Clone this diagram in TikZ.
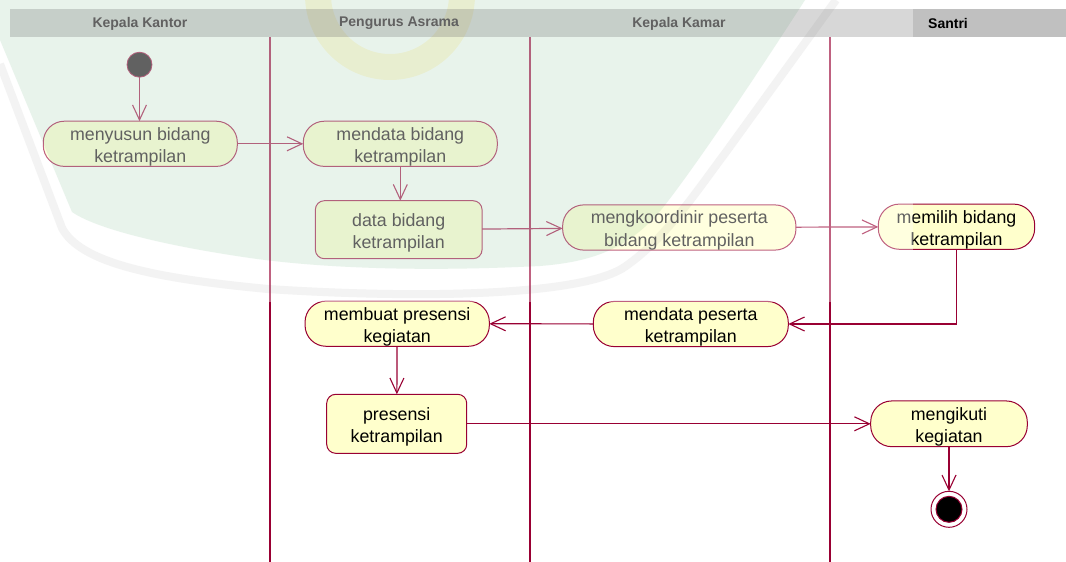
\documentclass[tikz,border=0pt]{standalone}
\usepackage{fontspec}
\setmainfont{Liberation Sans}
\usetikzlibrary{arrows.meta}

\definecolor{umlline}{RGB}{153,0,51}
\definecolor{umlfill}{RGB}{255,255,204}
\definecolor{lanehead}{RGB}{192,192,192}
\definecolor{shieldtint}{RGB}{219,237,224}
\definecolor{shieldrim}{RGB}{236,236,236}
\definecolor{crestgold}{RGB}{255,246,205}

% strut that lowers the two text lines a little inside each box
\newcommand{\ts}{\rule{0pt}{19pt}}

\begin{document}
\begin{tikzpicture}[x=1pt,y=-1pt,
  every node/.style={inner sep=0pt, outer sep=0pt},
  txt/.style={font=\fontsize{17.8}{22.5}\selectfont, align=center},
  action/.style={txt, draw=umlline, fill=umlfill, line width=1pt, rounded corners=21pt},
  objbox/.style={txt, draw=umlline, fill=umlfill, line width=1pt, rounded corners=9pt},
  flow/.style={draw=umlline, line width=1.2pt,
    -{Straight Barb[length=15pt,width=14pt,line width=1.1pt]}},
  lanehdr/.style={font=\bfseries\fontsize{14}{16}\selectfont},
  laneline/.style={draw=umlline, line width=1.2pt},
  startnode/.style={circle, fill=black, draw=umlline, line width=0.8pt, minimum size=25pt},
  endring/.style={circle, fill=white, draw=umlline, line width=1pt, minimum size=36pt},
  enddot/.style={circle, fill=black, draw=umlline, line width=1pt, minimum size=26pt}]

\useasboundingbox (0,0) rectangle (1066,562);
\fill[white] (0,0) rectangle (1066,562);

% swimlane header strip
\fill[lanehead] (10,9) rectangle (1066,37);
\node[lanehdr] (hKantor) at (140,23.5) {Kepala Kantor};
\node[lanehdr] (hAsrama) at (399,23.5) {Pengurus Asrama};
\node[lanehdr] (hKamar)  at (679,23.5) {Kepala Kamar};
\node[lanehdr] (hSantri) at (948,23.5) {Santri};

% swimlane separators
\coordinate (s1t) at (270,37);  \coordinate (s1b) at (270,562);
\coordinate (s2t) at (530,37);  \coordinate (s2b) at (530,562);
\coordinate (s3t) at (830,37);  \coordinate (s3b) at (830,562);
\draw[laneline] (s1t) -- (s1b);
\draw[laneline] (s2t) -- (s2b);
\draw[laneline] (s3t) -- (s3b);

% activities
\node[startnode] (start) at (139.5,64.7) {};
\node[action, minimum width=194pt, minimum height=43pt] (menyusun) at (140.3,143.8)
  {\ts menyusun bidang\\ketrampilan};
\node[action, minimum width=194pt, minimum height=43pt] (mendataB) at (400.3,143.8)
  {\ts mendata bidang\\ketrampilan};
\node[objbox, minimum width=166.7pt, minimum height=58pt] (dataB) at (398.7,229.7)
  {\ts data bidang\\ketrampilan};
\node[action, minimum width=233.3pt, minimum height=45pt] (koord) at (679.3,227.5)
  {\ts mengkoordinir peserta\\bidang ketrampilan};
\node[action, minimum width=156.4pt, minimum height=44.7pt] (memilih) at (956.5,226.7)
  {\ts memilih bidang\\ketrampilan};
\node[action, minimum width=195pt, minimum height=43.4pt] (mendataP) at (690.8,324)
  {\ts mendata peserta\\ketrampilan};
\node[action, minimum width=184.3pt, minimum height=42.7pt] (membuat) at (397.2,323.7)
  {\ts membuat presensi\\kegiatan};
\node[objbox, minimum width=140pt, minimum height=59pt] (presensi) at (396.7,423.8)
  {\ts presensi\\ketrampilan};
\node[action, minimum width=156.6pt, minimum height=45.7pt] (ikut) at (949,423.8)
  {\ts mengikuti\\kegiatan};
\node[endring] (endO) at (949,509.3) {};
\node[enddot] (endI) at (endO) {};

% control flows
\draw[flow] (start) -- (start |- menyusun.north);
\draw[flow] (menyusun) -- (mendataB);
\draw[flow] (mendataB.south) -- (mendataB.south |- dataB.north);
\draw[flow] (dataB) -- (koord);
\draw[flow] (koord) -- (memilih);
\draw[flow] (memilih.south) |- (mendataP.east);
\draw[flow] (mendataP) -- (membuat);
\draw[flow] (membuat) -- (presensi);
\draw[flow] (presensi) -- (ikut);
\draw[flow] (ikut) -- (endO);

% faint crest printed over the upper left of the sheet
\begin{scope}[blend mode=multiply]
  \fill[shieldtint] (0,0) -- (805,0)
    .. controls (760,70) and (700,160) .. (665,205)
    .. controls (630,250) and (590,262) .. (540,266)
    .. controls (420,272) and (320,268) .. (250,258)
    .. controls (160,245) and (95,228) .. (72,212)
    -- (0,40) -- cycle;
  \draw[shieldrim, line width=8pt] (0,64) -- (62,228)
    .. controls (80,262) and (150,278) .. (268,289)
    .. controls (420,299) and (585,296) .. (626,266)
    .. controls (666,238) and (696,192) .. (726,152)
    -- (836,0);
  \draw[crestgold, line width=26pt] (318,-5) arc[start angle=180, end angle=0, radius=72];
\end{scope}
\fill[white, opacity=0.38] (0,0) rectangle (913,302);
\end{tikzpicture}
\end{document}
